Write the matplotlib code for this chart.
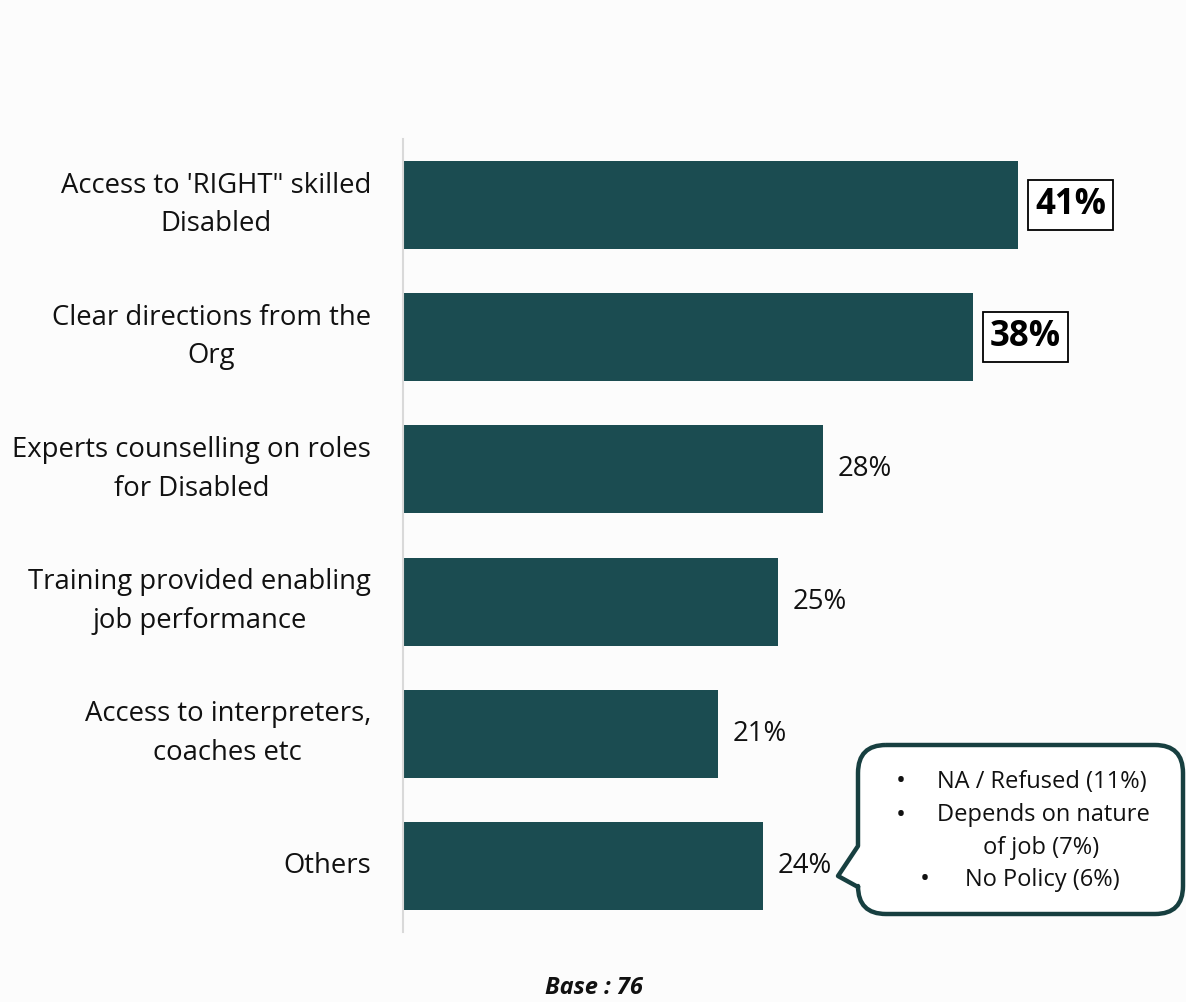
import matplotlib.pyplot as plt
from matplotlib.path import Path
from matplotlib.patches import PathPatch

plt.rcParams['font.family'] = ['Open Sans', 'DejaVu Sans']

categories = ["Access to 'RIGHT\" skilled\nDisabled",
              "Clear directions from the\nOrg",
              "Experts counselling on roles\nfor Disabled",
              "Training provided enabling\njob performance",
              "Access to interpreters,\ncoaches etc",
              "Others"]
values = [41, 38, 28, 25, 21, 24]
highlight = [True, True, False, False, False, False]
others_detail = ["NA / Refused (11%)", "Depends on nature", "of job (7%)", "No Policy (6%)"]
others_bullet = [True, True, False, True]

W, H = 1186, 1002
bg = '#fcfcfc'
teal = '#1b4c51'

fig = plt.figure(figsize=(W / 100, H / 100), dpi=100)
fig.patch.set_facecolor(bg)
ax = fig.add_axes([403 / W, 70 / H, 780 / W, 793 / H])
ax.set_facecolor(bg)

y = range(len(values))
ax.barh(y, values, height=0.667, color=teal)
ax.set_xlim(0, 52)
ax.set_ylim(5.5, -0.5)
ax.set_xticks([])
ax.set_yticks([])
for s in ['top', 'right', 'bottom']:
    ax.spines[s].set_visible(False)
ax.spines['left'].set_color('#d9d9d9')
ax.spines['left'].set_linewidth(1.5)

# category labels, centred block ending left of the axis
for i, lab in enumerate(categories):
    ax.annotate(lab, xy=(0, i), xytext=(-32, 0), textcoords='offset pixels',
                ha='right', va='center', multialignment='center',
                fontsize=19.8, color='#111111', linespacing=1.5)

# value labels
for i, (v, hl) in enumerate(zip(values, highlight)):
    if hl:
        ax.annotate(f"{v}%", xy=(v, i), xytext=(17, 0), textcoords='offset pixels',
                    ha='left', va='center', fontsize=25, fontweight='bold', color='black',
                    bbox=dict(boxstyle='square,pad=0.2', fc='white', ec='black', lw=1.3))
    else:
        ax.annotate(f"{v}%", xy=(v, i), xytext=(15, 0), textcoords='offset pixels',
                    ha='left', va='center', fontsize=19.8, color='#111111')

# speech bubble for "Others"
def fx(px):
    return px / W

def fy(py):
    return 1 - py / H

x0, x1, y0, y1, r = 858, 1183, 745, 914, 28
verts = [
    (x0 + r, y0), (x1 - r, y0), (x1, y0), (x1, y0 + r),
    (x1, y1 - r), (x1, y1), (x1 - r, y1),
    (x0 + r, y1), (x0, y1), (x0, y1 - r),
    (x0, 887), (838, 876), (x0, 846),
    (x0, y0 + r), (x0, y0), (x0 + r, y0),
]
codes = [Path.MOVETO, Path.LINETO, Path.CURVE3, Path.CURVE3,
         Path.LINETO, Path.CURVE3, Path.CURVE3,
         Path.LINETO, Path.CURVE3, Path.CURVE3,
         Path.LINETO, Path.LINETO, Path.LINETO,
         Path.LINETO, Path.CURVE3, Path.CURVE3]
bubble = Path([(fx(a), fy(b)) for a, b in verts], codes)
fig.patches.append(PathPatch(bubble, transform=fig.transFigure, fc='white',
                             ec='#173f40', lw=3.2, joinstyle='round'))

line_y = [782, 815, 848, 880]
bullet_x = [901, 901, None, 925]
text_cx = [1042, 1043, 1041, 1042]
for txt, b, yy, bx, cx in zip(others_detail, others_bullet, line_y, bullet_x, text_cx):
    if b:
        fig.text(fx(bx), fy(yy), "\u2022", ha='center', va='center', fontsize=19, color='#111111')
    fig.text(fx(cx), fy(yy), txt, ha='center', va='center', fontsize=17, color='#111111')

fig.text(fx(594), fy(988), "Base : 76", ha='center', va='center', fontsize=17,
         fontweight='bold', style='italic', color='#111111')

fig.savefig('out.png', dpi=100, facecolor=fig.get_facecolor())
